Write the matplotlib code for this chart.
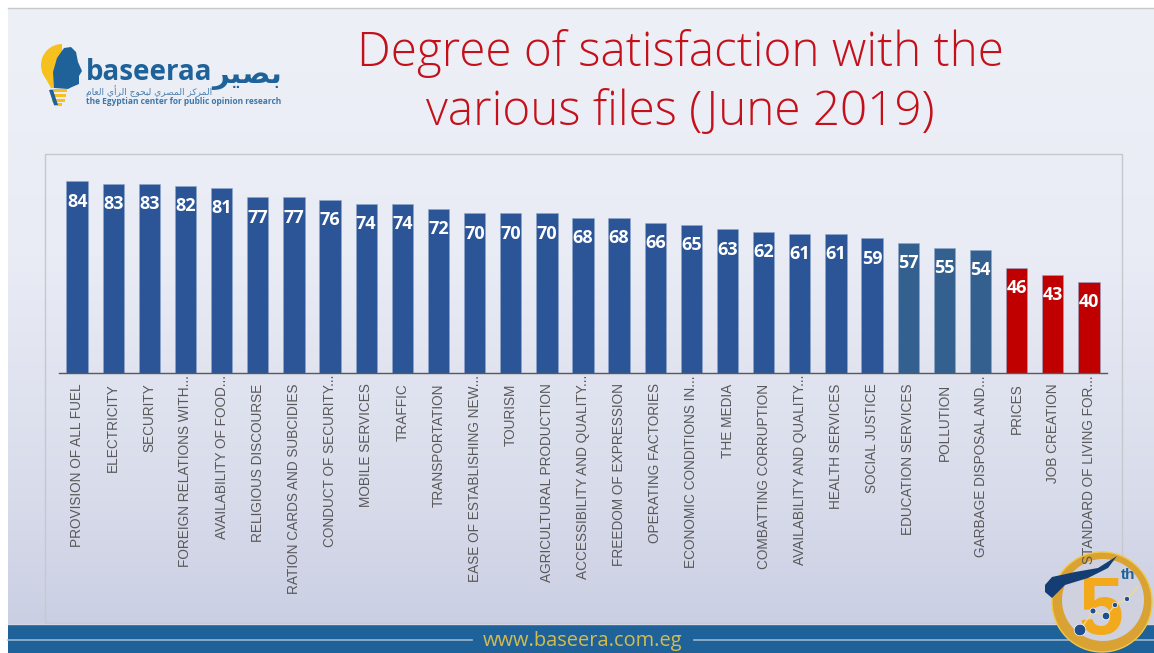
import numpy as np
import matplotlib
matplotlib.use("Agg")
import matplotlib.pyplot as plt
from matplotlib.patches import Circle, Rectangle, Polygon, Wedge
from matplotlib.colors import LinearSegmentedColormap

categories = ["PROVISION OF ALL FUEL", "ELECTRICITY", "SECURITY", "FOREIGN RELATIONS WITH...",
              "AVAILABILITY OF FOOD...", "RELIGIOUS DISCOURSE", "RATION CARDS AND SUBCIDIES",
              "CONDUCT OF SECURITY...", "MOBILE SERVICES", "TRAFFIC", "TRANSPORTATION",
              "EASE OF ESTABLISHING NEW...", "TOURISM", "AGRICULTURAL PRODUCTION",
              "ACCESSIBILITY AND QUALITY...", "FREEDOM OF EXPRESSION", "OPERATING FACTORIES",
              "ECONOMIC CONDITIONS IN...", "THE MEDIA", "COMBATTING CORRUPTION",
              "AVAILABILITY AND QUALITY...", "HEALTH SERVICES", "SOCIAL JUSTICE",
              "EDUCATION SERVICES", "POLLUTION", "GARBAGE DISPOSAL AND...", "PRICES",
              "JOB CREATION", "STANDARD OF LIVING FOR..."]
values = [84, 83, 83, 82, 81, 77, 77, 76, 74, 74, 72, 70, 70, 70, 68, 68, 66, 65, 63, 62,
          61, 61, 59, 57, 55, 54, 46, 43, 40]
colors = ["#2b5597"] * 23 + ["#34608f"] * 3 + ["#c00000"] * 3
title = "Degree of satisfaction with the\nvarious files (June 2019)"
url = "www.baseera.com.eg"

W, H = 1154, 653
fig = plt.figure(figsize=(W / 100, H / 100), dpi=100, facecolor="white")

# slide background (pixel coordinates)
bg = fig.add_axes([0, 0, 1, 1], zorder=0)
bg.axis("off")
cmap = LinearSegmentedColormap.from_list(
    "s", [(0, "#eef0f7"), (0.4, "#e9ecf5"), (0.75, "#dadeec"), (1, "#cbcfe3")])
grad = np.linspace(0, 1, 256).reshape(-1, 1)
bg.imshow(grad, cmap=cmap, extent=(8, W, 625, 8), aspect="auto", zorder=0)
bg.set_xlim(0, W)
bg.set_ylim(H, 0)
bg.plot([8, W], [8, 8], color="#c8c8c8", lw=1, zorder=1)
bg.add_patch(Rectangle((44.5, 153.5), 1077, 469, fill=False, ec="#c6c8ce", lw=1, zorder=1))

# footer
bg.add_patch(Rectangle((8, 625), W - 8, 28, fc="#1f6299", ec="none", zorder=2))
bg.plot([8, W], [623.5, 623.5], color="#d6d6e2", lw=1, zorder=2)
bg.plot([8, 472], [640, 640], color="#9db8d2", lw=1.2, zorder=3)
bg.plot([694, W], [640, 640], color="#9db8d2", lw=1.2, zorder=3)
bg.text(583, 641, url, color="#d3bc4f", fontsize=14.4, family="Open Sans", ha="center", va="center", zorder=4)

# logo
bg.add_patch(Wedge((62, 65), 21, 90, 270, fc="#f6c11f", ec="none", zorder=3))
bg.add_patch(Polygon([[42, 72], [66, 72], [66, 88], [51, 88]], fc="#f6c11f", ec="none", zorder=3))
for y0, x0, x1 in [(89, 50, 67), (94, 51, 66), (99, 52, 65), (103, 54, 62)]:
    bg.add_patch(Rectangle((x0, y0), x1 - x0, 3.4, fc="#f6c11f", ec="none", zorder=3))
bg.add_patch(Polygon([[54, 88], [53, 72], [57, 58], [64, 48], [71, 47], [76, 52], [78, 62],
                      [82, 71], [79, 76], [79, 84], [72, 87], [68, 89]],
                     fc="#1f6299", ec="none", zorder=4))
bg.add_patch(Polygon([[49, 90], [53, 90], [58, 105], [54, 105]], fc="#1f6299", ec="none", zorder=4))
bg.text(86, 72, "baseeraa", color="#1f6299", fontsize=20, family="Open Sans", weight="bold",
        ha="left", va="center", zorder=4)
ar1 = "\ufe91\ufebc\ufef4\ufeae"
bg.text(282, 76, ar1[::-1], color="#1f6299", fontsize=21, family="DejaVu Sans", weight="bold",
        ha="right", va="center", zorder=4)
ar2 = "\ufe8d\ufedf\ufee4\ufeae\ufedb\ufeb0 \ufe8d\ufedf\ufee4\ufebc\ufeae\ufef1 \ufedf\ufe92\ufea4\ufeee\ufe9d \ufe8d\ufedf\ufeae\ufe83\ufef1 \ufe8d\ufedf\ufecc\ufe8e\ufee1"
bg.text(86, 91, ar2[::-1], color="#4a7fae", fontsize=6.5, family="DejaVu Sans", ha="left", va="center", zorder=4)
bg.text(86, 101, "the Egyptian center for public opinion research", color="#3f77a8", fontsize=6,
        family="Open Sans", weight="bold", ha="left", va="center", zorder=4)

# title
bg.text(680, 83, title, color="#c4101a", fontsize=34.3, family="Open Sans", weight=300, ha="center",
        va="center", linespacing=1.27, zorder=4)

# chart
left, right, top, base = 59, 1107, 153, 373
ax = fig.add_axes([left / W, 1 - base / H, (right - left) / W, (base - top) / H], zorder=1)
ax.patch.set_alpha(0)
x = np.arange(len(values))
bars = ax.bar(x, values, width=0.59, color=colors, edgecolor="#8fa8cc", linewidth=0.4)
ax.set_xlim(-0.5, len(values) - 0.5)
ax.set_ylim(0, (base - top) / 2.28)
ax.bar_label(bars, labels=[str(v) for v in values], padding=-21, color="white", fontsize=13,
             family="Open Sans", weight="bold")
ax.set_xticks(x)
ax.set_xticklabels(categories, rotation=90, color="#595959", fontsize=9.8, family="Liberation Sans")
ax.tick_params(axis="x", length=0, pad=7.5)
for tick, name in zip(ax.xaxis.get_major_ticks(), categories):
    if name.endswith("..."):
        tick.set_pad(1.5)
ax.yaxis.set_visible(False)
for s in ["top", "left", "right"]:
    ax.spines[s].set_visible(False)
ax.spines["bottom"].set_color("#595959")
ax.spines["bottom"].set_linewidth(1)

# anniversary badge
ov = fig.add_axes([0, 0, 1, 1], zorder=0.5)
ov.set_xlim(0, W)
ov.set_ylim(H, 0)
ov.axis("off")
ov.patch.set_alpha(0)
ov.add_patch(Circle((1102, 602), 50, fc="#d9a233", ec="#f2c84a", lw=1, zorder=1))
ov.add_patch(Circle((1103, 600), 41, fc="#cfd1de", ec="none", zorder=2))
ov.text(1101, 634, "5", color="#f2a91c", fontsize=58, weight="bold", family="Liberation Sans",
        ha="center", va="baseline", zorder=3)
ov.text(1128, 575, "th", color="#1f6299", fontsize=11, weight="bold", family="Liberation Sans",
        ha="center", va="center", zorder=3)
ov.add_patch(Polygon([[1045, 585], [1052, 577], [1075, 572], [1098, 568], [1117, 556], [1108, 568],
                      [1088, 578], [1065, 585], [1052, 598], [1045, 592]],
                     fc="#143d73", ec="none", zorder=4))
ov.plot([1080, 1093, 1106, 1115, 1127, 1138], [630, 611, 616, 605, 599, 587],
        color="#f2d98a", lw=1, zorder=5)
ov.scatter([1080, 1093, 1106, 1115, 1127], [630, 611, 616, 605, 599], s=[70, 18, 30, 14, 14],
           color="#1f4f8f", edgecolor="white", linewidth=0.5, zorder=6)

fig.savefig("out.png", dpi=100)
